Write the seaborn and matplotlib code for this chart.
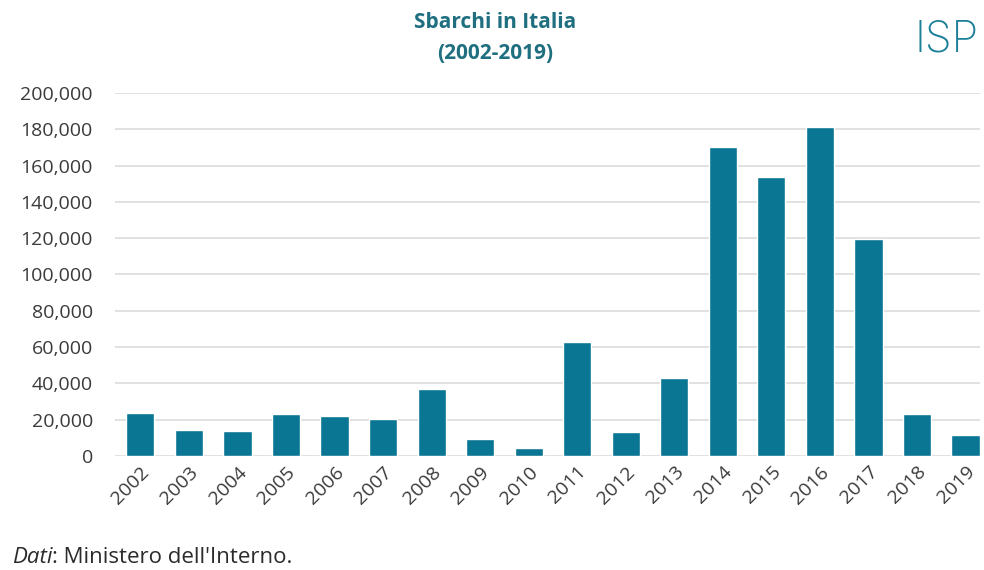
import pandas as pd
import seaborn as sns
import matplotlib.pyplot as plt
from matplotlib.ticker import FuncFormatter
from matplotlib.transforms import offset_copy

# Data
years = ["2002", "2003", "2004", "2005", "2006", "2007", "2008", "2009", "2010",
         "2011", "2012", "2013", "2014", "2015", "2016", "2017", "2018", "2019"]
arrivals = [23719, 14331, 13635, 22939, 22016, 20455, 36951, 9573, 4406,
            62692, 13267, 42925, 170100, 153842, 181436, 119369, 23370, 11471]
y_ticks = [0, 20000, 40000, 60000, 80000, 100000, 120000, 140000, 160000, 180000, 200000]

df = pd.DataFrame({"anno": years, "sbarchi": arrivals})

sns.set_theme(style="white")
plt.rcParams["font.family"] = ["Open Sans", "DejaVu Sans"]

fig = plt.figure(figsize=(9.84, 5.70), dpi=100)
ax = fig.add_axes([0.117, 0.2, 0.879, 0.637])

sns.barplot(data=df, x="anno", y="sbarchi", color="#0b7693", saturation=1,
            width=0.58, ax=ax)

ax.set_ylim(0, 200000)
ax.set_xlim(-0.52, 17.3)
ax.set_yticks(y_ticks)
ax.yaxis.set_major_formatter(FuncFormatter(lambda v, p: f"{int(v):,}"))
ax.grid(axis="y", color="#dcdcdc", linewidth=1.2)
ax.set_axisbelow(True)
for s in ax.spines.values():
    s.set_visible(False)
ax.tick_params(axis="both", length=0, labelsize=14, labelcolor="#3a3a3a")
ax.tick_params(axis="y", pad=16)
ax.tick_params(axis="x", pad=5)
plt.setp(ax.get_xticklabels(), rotation=45, ha="right", rotation_mode="anchor")
ax.set_xlabel("")
ax.set_ylabel("")

# Title
fig.text(0.503, 0.96, "Sbarchi in Italia", ha="center", va="center",
         fontsize=15, fontweight="bold", color="#1f6f80")
fig.text(0.503, 0.906, "(2002-2019)", ha="center", va="center",
         fontsize=15, fontweight="bold", color="#1f6f80")

# Logo
fig.text(0.995, 0.93, "ISP", ha="right", va="center", fontsize=31,
         fontweight="light", color="#1a7f97", family="Inter")

# Source
t = fig.text(0.012, 0.022, "Dati", ha="left", va="center", fontsize=16,
             style="italic", color="#2b2b2b")
fig.canvas.draw()
w = t.get_window_extent().width
fig.text(0.012, 0.022, ": Ministero dell'Interno.", ha="left", va="center",
         fontsize=16, color="#2b2b2b",
         transform=offset_copy(fig.transFigure, fig=fig, x=w, y=0, units="dots"))

fig.savefig("out.png", dpi=100)
